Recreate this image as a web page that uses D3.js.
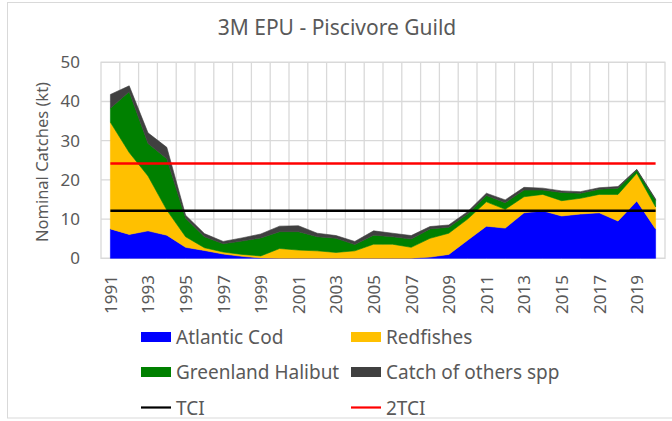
<!DOCTYPE html>
<html><head><meta charset="utf-8">
<script src="https://cdn.jsdelivr.net/npm/d3@7/dist/d3.min.js"></script>
<style>
html,body{margin:0;padding:0;background:#fff;}
svg{display:block;font-family:"Noto Sans","Open Sans",sans-serif;}
</style></head>
<body>
<svg id="chart" width="672" height="421"></svg>
<script>
const years = [1991,1992,1993,1994,1995,1996,1997,1998,1999,2000,2001,2002,2003,2004,2005,2006,2007,2008,2009,2010,2011,2012,2013,2014,2015,2016,2017,2018,2019,2020];
const atlanticCod = [7.5,6.1,7.0,5.9,2.8,2.0,1.1,0.5,0.1,0,0,0,0,0,0,0,0,0.3,1.0,4.6,8.2,7.7,11.6,12.1,10.8,11.3,11.6,9.5,14.6,7.5];
const redfishes = [27.2,20.9,14.0,6.4,2.7,0.7,0.5,0.5,0.5,2.5,2.1,1.9,1.5,1.9,3.6,3.6,2.8,4.8,5.4,5.4,6.2,4.8,4.1,4.2,3.9,4.0,4.7,6.8,7.1,5.6];
const greenlandHalibut = [3.6,15.5,8.3,13.1,4.7,2.8,2.1,3.4,4.6,4.3,4.7,3.6,3.6,1.6,2.3,1.9,2.1,2.4,1.5,1.3,1.6,1.7,1.7,1.1,2.1,1.3,1.3,1.6,0.8,1.7];
const otherSpp = [3.5,1.5,2.7,2.9,0.8,0.8,0.6,0.8,1.0,1.4,1.5,0.9,0.7,0.8,1.1,0.9,0.9,0.6,0.6,0.6,0.6,0.7,0.7,0.5,0.4,0.4,0.4,0.4,0.2,0.3];
const tci = 12.1;
const tci2 = 24.2;
const yTicks = [0,10,20,30,40,50];
const xTickYears = [1991,1993,1995,1997,1999,2001,2003,2005,2007,2009,2011,2013,2015,2017,2019];
const seriesNames = ["Atlantic Cod","Redfishes","Greenland Halibut","Catch of others spp"];
const seriesColors = ["#0000FF","#FFC000","#008000","#404040"];

const svg = d3.select("#chart");
const txt = "#595959";
const grid = "#d9d9d9";

// outer chart border
svg.append("rect").attr("x",7.5).attr("y",2.5).attr("width",700).attr("height",415.5)
  .attr("fill","none").attr("stroke",grid).attr("stroke-width",1);

const L = 101, R = 665, T = 62.3, B = 258.3;
const xb = d3.scaleBand().domain(years).range([L,R]).padding(0);
const xc = d => xb(d) + xb.bandwidth()/2;
const y = d3.scaleLinear().domain([0,50]).range([B,T]);

// gridlines
const gH = svg.append("g");
yTicks.forEach(t => gH.append("line").attr("x1",L).attr("x2",R).attr("y1",y(t)).attr("y2",y(t))
  .attr("stroke",grid).attr("stroke-width",1.3));
years.forEach((yr,i) => { if(i>0) gH.append("line").attr("x1",xb(yr)).attr("x2",xb(yr)).attr("y1",T).attr("y2",B)
  .attr("stroke",grid).attr("stroke-width",1.3); });
gH.append("rect").attr("x",L).attr("y",T).attr("width",R-L).attr("height",B-T)
  .attr("fill","none").attr("stroke",grid).attr("stroke-width",1.3);

// stacked data
const rows = years.map((yr,i) => ({year:yr, s0:atlanticCod[i], s1:redfishes[i], s2:greenlandHalibut[i], s3:otherSpp[i]}));
const stack = d3.stack().keys(["s0","s1","s2","s3"]);
const layers = stack(rows);
const area = d3.area().x(d => xc(d.data.year)).y0(d => y(d[0])).y1(d => y(d[1]));
svg.append("g").selectAll("path").data(layers).join("path")
  .attr("d", area)
  .attr("fill",(d,i)=>seriesColors[i])
  .attr("stroke",(d,i)=>seriesColors[i]).attr("stroke-width",0.6);

// TCI lines
const lineGen = d3.line().x(d => xc(d.year)).y(d => y(d.v));
svg.append("path").datum(years.map(yr=>({year:yr,v:tci}))).attr("d",lineGen)
  .attr("fill","none").attr("stroke","#000").attr("stroke-width",2.5);
svg.append("path").datum(years.map(yr=>({year:yr,v:tci2}))).attr("d",lineGen)
  .attr("fill","none").attr("stroke","#FF0000").attr("stroke-width",2.5);

// y axis labels
const yAxis = d3.axisLeft(y).tickValues(yTicks).tickSize(0).tickPadding(0);
const gy = svg.append("g").attr("transform","translate(80,0)").call(yAxis);
gy.select(".domain").remove();
gy.selectAll("text").attr("fill",txt).style("font-size","17px").style("font-family","'Noto Sans',sans-serif");

// x axis labels
const xAxis = d3.axisBottom(d3.scalePoint().domain(years).range([xc(years[0]), xc(years[years.length-1])]))
  .tickValues(xTickYears).tickSize(0).tickPadding(0);
const gx = svg.append("g").attr("transform","translate(0,275)").call(xAxis);
gx.select(".domain").remove();
gx.selectAll("text").attr("fill",txt).style("font-size","17px").style("font-family","'Noto Sans',sans-serif")
  .attr("transform","rotate(-90)").attr("text-anchor","end").attr("x",0).attr("y",0).attr("dy","0.35em");

// title
svg.append("text").attr("x",337).attr("y",35).attr("text-anchor","middle")
  .attr("fill",txt).style("font-size","21px").text("3M EPU - Piscivore Guild");

// y label
svg.append("text").attr("transform","translate(48,162) rotate(-90)").attr("text-anchor","middle")
  .attr("fill",txt).style("font-size","16.5px").text("Nominal Catches (kt)");

// legend
const legItems = [
  {name:seriesNames[0], color:seriesColors[0], type:"box", x:141, y:337},
  {name:seriesNames[1], color:seriesColors[1], type:"box", x:351, y:337},
  {name:seriesNames[2], color:seriesColors[2], type:"box", x:141, y:372},
  {name:seriesNames[3], color:seriesColors[3], type:"box", x:351, y:372},
  {name:"TCI", color:"#000000", type:"line", x:141, y:407.5},
  {name:"2TCI", color:"#FF0000", type:"line", x:351, y:407.5}
];
const lg = svg.append("g");
legItems.forEach(it => {
  if(it.type==="box"){
    lg.append("rect").attr("x",it.x).attr("y",it.y-5).attr("width",30).attr("height",10).attr("fill",it.color);
  } else {
    lg.append("line").attr("x1",it.x).attr("x2",it.x+30).attr("y1",it.y).attr("y2",it.y)
      .attr("stroke",it.color).attr("stroke-width",2.2);
  }
  lg.append("text").attr("x",it.x+35).attr("y",it.y+7).attr("fill",txt)
    .style("font-size","19px").text(it.name);
});
</script>
</body></html>
